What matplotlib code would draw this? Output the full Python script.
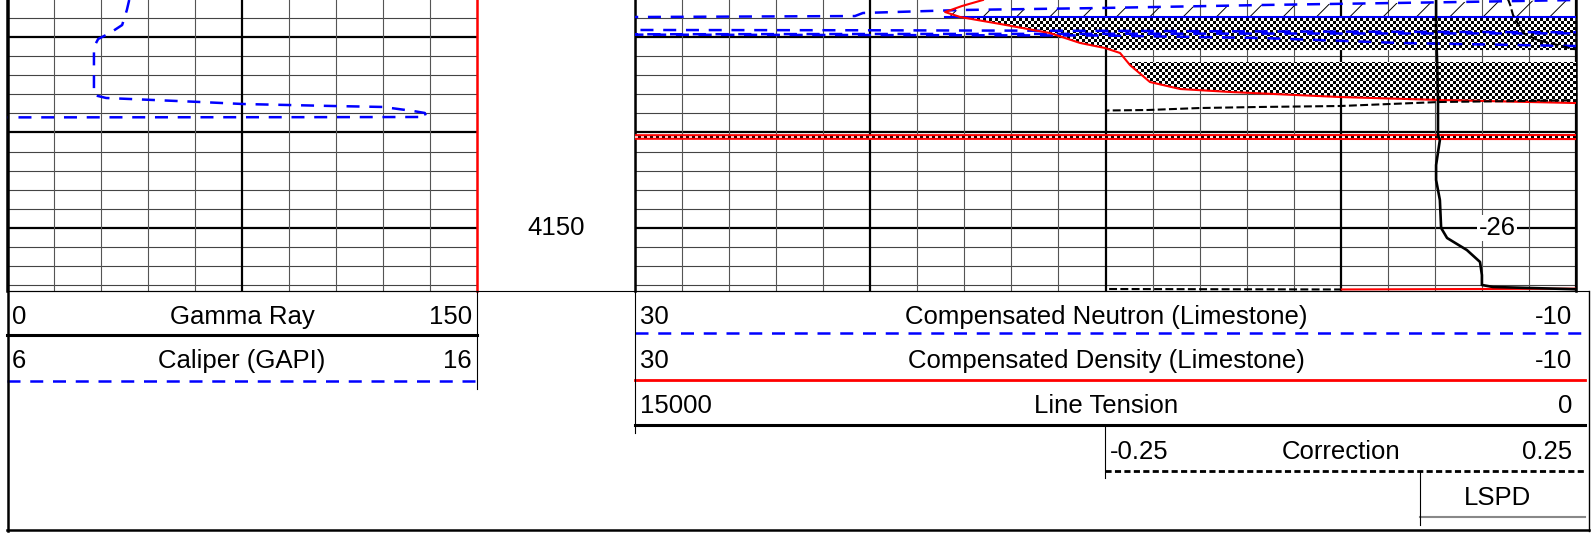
import matplotlib
matplotlib.use('Agg')
import matplotlib.pyplot as plt
import numpy as np

plt.rcParams['font.family'] = ['Liberation Sans', 'DejaVu Sans']
plt.rcParams['hatch.linewidth'] = 0.7

W, H = 1592, 535
TOP_D, BOT_D = 4126.13, 4156.6

# ── curves: depth (ft) and value ──
cal_depth = [4126.13, 4127.18, 4128.75, 4129.59, 4130.21, 4131.05, 4136.08, 4136.39,
             4136.81, 4137.02, 4137.23, 4137.33, 4137.75, 4137.96, 4138.38, 4138.40,
             4138.42, 4138.43, 4156.6]
cal_val = [8.60, 8.55, 8.45, 8.19, 7.94, 7.85, 7.85, 8.11, 10.11, 11.02, 12.94, 14.0,
           14.64, 14.89, 14.92, 12.23, 6.02, 5.43, 5.43]

dens_depth = [4126.13, 4126.76, 4127.39, 4127.91, 4128.64, 4129.59, 4130.63, 4131.16,
              4131.68, 4132.94, 4134.72, 4135.45, 4135.76, 4136.29, 4136.60, 4136.92,
              4137.02, 4140.21, 4140.27, 4140.29, 4140.32, 4140.63, 4140.66, 4140.69,
              4140.74, 4156.34, 4156.44]
dens_val = [15.21, 16.10, 16.82, 16.18, 14.48, 12.36, 11.08, 10.02, 9.38, 8.96, 8.11,
            6.83, 4.71, 0.03, -4.22, -10.0, -11.87, -11.87, -10.0, 30.0, 31.49, 31.49,
            30.0, -10.0, -11.87, -11.87, -0.01]

neu_depth = [4125.92, 4126.13, 4126.34, 4126.65, 4126.97, 4127.18, 4127.49, 4127.81,
             4127.91, 4127.94, 4129.22, 4129.27, 4129.30, 4129.36, 4129.43, 4129.51,
             4129.54, 4129.59, 4129.62, 4129.64, 4129.67, 4129.69, 4129.72, 4129.73,
             4129.75, 4129.76, 4129.80, 4129.85, 4130.11, 4130.63, 4130.95, 4131.05, 4156.6]
neu_val = [-12.72, -10.0, -5.07, 3.22, 10.23, 16.18, 20.31, 20.65, 29.79, 31.49, 31.49,
           29.79, 20.01, 10.23, 1.73, -10.0, -12.72, -12.72, -10.0, 1.73, 10.23, 20.01,
           29.79, 31.49, 31.49, 29.79, 20.01, 10.23, 3.31, -2.52, -10.0, -12.72, -12.72]

ten_depth = [4126.13, 4129.27, 4132.41, 4136.60, 4140.27, 4140.79, 4143.41, 4144.98,
             4147.07, 4150.0, 4151.05, 4152.31, 4153.56, 4154.93, 4155.97, 4156.18,
             4156.39, 4156.42]
ten_val = [2230, 2230, 2215, 2200, 2200, 2170, 2230, 2230, 2170, 2150, 2055, 1740,
           1530, 1500, 1500, 1325, 145, 0]

corr_depth = [4125.82, 4126.13, 4126.65, 4127.70, 4129.59, 4130.32, 4130.63, 4131.26,
              4131.47, 4136.60, 4136.81, 4137.23, 4137.33, 4137.44, 4137.65, 4137.70,
              4137.75, 4156.29, 4156.39, 4156.44]
corr_val = [0.175, 0.178, 0.180, 0.183, 0.194, 0.209, 0.222, 0.247, 0.276, 0.276,
            0.105, -0.001, -0.086, -0.150, -0.206, -0.250, -0.278, -0.278, -0.250, 0.0]

# fill zones (depth ranges) between density and the right edge
checker_zones = [(4127.91, 4131.37), (4132.62, 4136.92)]
thin_band = (4140.28, 4140.67)
hatch_base = 4127.91
depth_label = 4150
tension_tag = '-26'

fig = plt.figure(figsize=(W / 100, H / 100), dpi=100)
fig.patch.set_facecolor('white')


def px_axes(x0, x1, y0, y1, **kw):
    return fig.add_axes([x0 / W, 1 - y1 / H, (x1 - x0) / W, (y1 - y0) / H], **kw)


def depth_grid(ax, xmin, xmax, step, major):
    for d in np.arange(4128, 4157, 2):
        big = d % 10 == 0
        ax.axhline(d, color='black' if big else '#444', lw=1.6 if big else 0.8, zorder=1)
    for v in np.arange(xmin, xmax + step / 2, step):
        big = any(abs(v - m) < 1e-6 for m in major)
        ax.axvline(v, color='black' if big else '#555', lw=1.6 if big else 0.8, zorder=1)


def style_track(ax, xlim, right_color='black'):
    ax.set_xlim(*xlim)
    ax.set_ylim(BOT_D, TOP_D)
    ax.set_xticks([])
    ax.set_yticks([])
    ax.spines['top'].set_visible(False)
    ax.spines['bottom'].set_linewidth(0.8)
    ax.spines['left'].set_linewidth(1.8)
    ax.spines['right'].set_linewidth(1.8)
    ax.spines['right'].set_color(right_color)


FS = 18.5

# ── Track 1: caliper ──
ax1 = px_axes(7, 477, 0, 291)
style_track(ax1, (6, 16), right_color='red')
depth_grid(ax1, 6, 16, 1, [11])
ax1.plot(cal_val, cal_depth, color='blue', lw=1.8, ls=(0, (5.2, 3.9)), zorder=4)

# ── Depth track ──
axd = px_axes(477, 635, 0, 291)
axd.set_ylim(BOT_D, TOP_D)
axd.set_xlim(0, 1)
axd.axis('off')
axd.text(0.5, depth_label, str(depth_label), ha='center', va='center', fontsize=FS)

# ── Track 2: porosity, tension, correction ──
ax2 = px_axes(635, 1576, 0, 291)
style_track(ax2, (30, -10))
depth_grid(ax2, -10, 30, 2, [30, 20, 10, 0, -10])

ny, nx = 97, 314
CHECK = (np.add.outer(np.arange(ny), np.arange(nx)) % 2).astype(float)


def checker_poly(ax, xs, ds, edge, z):
    verts = np.column_stack([np.r_[xs, np.full(len(xs), edge)], np.r_[ds, ds[::-1]]])
    poly = plt.Polygon(verts, closed=True, facecolor='none', edgecolor='none')
    ax.add_patch(poly)
    im = ax.imshow(CHECK, cmap='gray', extent=(30, -10, BOT_D, TOP_D), aspect='auto',
                   interpolation='nearest', zorder=z)
    im.set_clip_path(poly)


for i, (d0, d1) in enumerate(checker_zones):
    dd = np.linspace(d0, d1, 80)
    xx = np.interp(dd, dens_depth, dens_val)
    checker_poly(ax2, xx, dd, -10, 2 if i == 0 else 3.5)
checker_poly(ax2, np.array([30.0, 30.0]), np.array(thin_band), -10, 3.5)

# hatched zone between the upper neutron swing and its base line
hx = np.r_[neu_val[1:6], dens_val[2], dens_val[2], -10]
hy = np.r_[neu_depth[1:6], dens_depth[2], hatch_base, hatch_base]
ax2.fill(hx, hy, facecolor='none', edgecolor='black', hatch='/', lw=0, zorder=2)
ax2.plot([dens_val[2], -10], [hatch_base, hatch_base], color='blue', lw=1.5, zorder=4)

ax2.plot(neu_val, neu_depth, color='blue', lw=1.8, ls=(0, (5.2, 3.9)), zorder=4)
ax2.plot(dens_val, dens_depth, color='red', lw=1.5, zorder=5)

axt = px_axes(635, 1576, 0, 291)
axt.set_xlim(15000, 0)
axt.set_ylim(BOT_D, TOP_D)
axt.axis('off')
axt.patch.set_alpha(0)
axt.set_zorder(ax2.get_zorder() + 0.1)
axt.plot(ten_val, ten_depth, color='black', lw=1.9)
axt.text(np.interp(1497, [635, 1576], [15000, 0]), depth_label, tension_tag, ha='center',
         va='center', fontsize=FS, bbox=dict(facecolor='white', edgecolor='none', pad=1))

axc = px_axes(1106, 1576, 0, 291)
axc.set_xlim(-0.25, 0.25)
axc.set_ylim(BOT_D, TOP_D)
axc.axis('off')
axc.patch.set_alpha(0)
axc.set_zorder(ax2.get_zorder() + 0.2)
axc.plot(corr_val, corr_depth, color='black', lw=1.5, ls=(0, (3.8, 1.6)))

# ── Header (pixel overlay) ──
ov = fig.add_axes([0, 0, 1, 1])
ov.set_xlim(0, W)
ov.set_ylim(H, 0)
ov.axis('off')
ov.patch.set_alpha(0)
ov.set_zorder(10)


def header_row(x0, x1, y, left, title, right, cx=None):
    ov.text(x0 + 5, y, left, ha='left', va='center', fontsize=FS)
    ov.text(cx if cx else (x0 + x1) / 2, y, title, ha='center', va='center', fontsize=FS)
    ov.text(x1 - 5, y, right, ha='right', va='center', fontsize=FS)


header_row(7, 477, 317, '0', 'Gamma Ray', '150')
ov.plot([7, 477], [335, 335], color='black', lw=2.2)
header_row(7, 477, 361, '6', 'Caliper (GAPI)', '16')
ov.plot([7, 477], [381, 381], color='blue', lw=1.8, ls=(0, (5.2, 3.9)))
ov.plot([477, 477], [291, 389], color='black', lw=0.8)

header_row(635, 1577, 317, '30', 'Compensated Neutron (Limestone)', '-10')
ov.plot([635, 1585], [333, 333], color='blue', lw=1.8, ls=(0, (5.2, 3.9)))
header_row(635, 1577, 361, '30', 'Compensated Density (Limestone)', '-10')
ov.plot([635, 1585], [380, 380], color='red', lw=2.0)
header_row(635, 1577, 406, '15000', 'Line Tension', '0')
ov.plot([635, 1585], [425, 425], color='black', lw=2.2)
ov.plot([635, 635], [291, 433], color='black', lw=0.8)
header_row(1105, 1577, 452, '-0.25', 'Correction', '0.25')
ov.plot([1105, 1585], [471, 471], color='black', lw=2.0, ls=(0, (2.2, 1.2)))
ov.plot([1105, 1105], [425, 478], color='black', lw=0.8)
ov.text(1498, 498, 'LSPD', ha='center', va='center', fontsize=FS)
ov.plot([1420, 1585], [517, 517], color='#888', lw=1.5)
ov.plot([1420, 1420], [471, 525], color='black', lw=0.8)

ov.plot([7, 1588], [291, 291], color='black', lw=0.8)
ov.plot([7.5, 7.5], [0, 531], color='black', lw=1.8)
ov.plot([7, 1589], [530, 530], color='black', lw=1.8)
ov.plot([1588.5, 1588.5], [291, 531], color='black', lw=1.0)

plt.savefig('out.png', dpi=100, facecolor='white')
plt.close()
